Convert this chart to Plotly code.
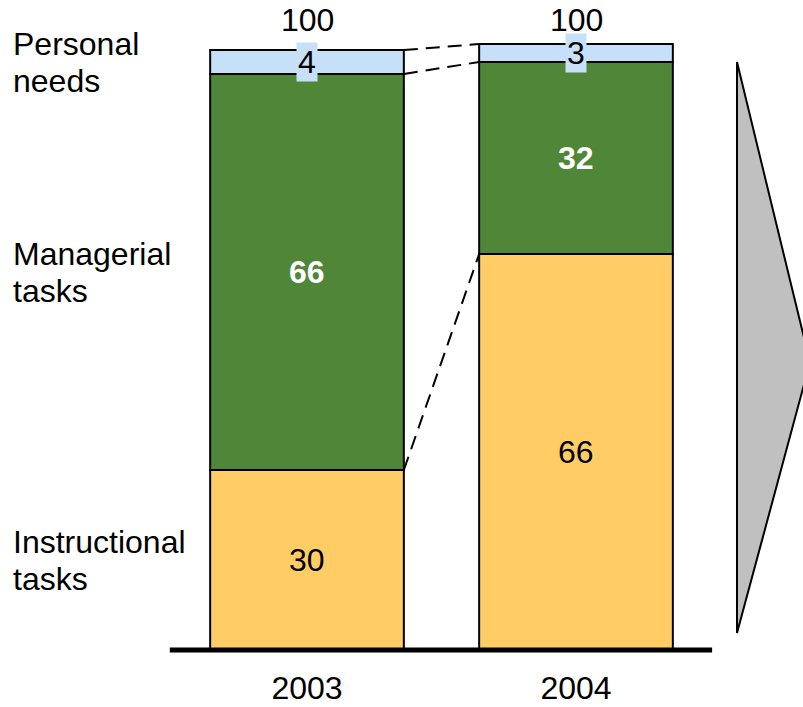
import plotly.graph_objects as go

# ---- data -------------------------------------------------------------
years = ["2003", "2004"]
instructional = [30, 66]
managerial = [66, 32]
personal = [4, 3]
totals = [100, 100]
row_labels = [["Instructional", "tasks"], ["Managerial", "tasks"], ["Personal", "needs"]]

# ---- styling ----------------------------------------------------------
FONT = "Liberation Sans, Arial, sans-serif"
FS = 32
LINE_GAP = 37  # px between the two lines of a row label
C_INSTR = "#FFCC66"
C_MANAG = "#508638"
C_PERS = "#C6E0F9"
BAR_W = 0.72
PX_PER_UNIT = 6  # vertical scale

xpos = list(range(len(years)))
series = [
    (instructional, C_INSTR, dict(color="black"), None),
    (managerial, C_MANAG, dict(color="white", weight="bold"), None),
    (personal, C_PERS, dict(color="black"), C_PERS),
]

fig = go.Figure()
annotations = []
bases = [0] * len(years)
cum = []  # cumulative tops for each series
for vals, color, tfont, bg in series:
    fig.add_trace(go.Bar(
        x=xpos, y=vals, base=bases[:], width=BAR_W,
        marker=dict(color=color, line=dict(color="black", width=2)),
        hoverinfo="skip", showlegend=False,
    ))
    for i, v in enumerate(vals):
        ann = dict(x=xpos[i], y=bases[i] + v / 2, text=str(v), showarrow=False,
                   xref="x", yref="y",
                   font=dict(family=FONT, size=FS, **tfont))
        if bg:
            ann.update(bgcolor=bg, borderpad=1)
        annotations.append(ann)
    bases = [b + v for b, v in zip(bases, vals)]
    cum.append(bases[:])

# totals above each bar
for i, t in enumerate(totals):
    annotations.append(dict(x=xpos[i], y=t, text=str(t), showarrow=False,
                            xref="x", yref="y", yshift=30,
                            font=dict(family=FONT, size=FS, color="black")))

# row labels on the left, aligned with the first bar's segments
first_bases = [0] + [c[0] for c in cum[:-1]]
for lines, (vals, *_), b in zip(row_labels, series, first_bases):
    for k, line in enumerate(lines):
        annotations.append(dict(x=11 / 803, xref="paper", y=b + vals[0] / 2, yref="y",
                                yshift=LINE_GAP * ((len(lines) - 1) / 2 - k),
                                text=line, showarrow=False, xanchor="left", align="left",
                                font=dict(family=FONT, size=FS, color="black")))

shapes = []
# dashed connectors between segment boundaries
for c in cum:
    shapes.append(dict(type="line", xref="x", yref="y",
                       x0=xpos[0] + BAR_W / 2, y0=c[0],
                       x1=xpos[1] - BAR_W / 2, y1=c[1],
                       line=dict(color="black", width=2, dash="14px,8px")))
# thick baseline
shapes.append(dict(type="line", xref="x", yref="y", x0=-0.51, x1=1.506, y0=0, y1=0,
                   line=dict(color="black", width=5), layer="above"))
# grey arrow head on the right
shapes.append(dict(type="path", xref="paper", yref="paper",
                   path="M 0.9178 0.9056 L 1.0087 0.4485 L 0.9178 0.0365 Z",
                   fillcolor="#C0C0C0", line=dict(color="black", width=2)))

fig.update_layout(
    width=803, height=707,
    margin=dict(l=0, r=0, t=0, b=50),
    paper_bgcolor="white", plot_bgcolor="white",
    barmode="overlay",
    annotations=annotations, shapes=shapes,
    xaxis=dict(range=[-307 / 269, 496 / 269], tickvals=xpos, ticktext=years,
               showgrid=False, zeroline=False, showline=False,
               ticks="outside", ticklen=3, tickcolor="rgba(0,0,0,0)",
               tickfont=dict(family=FONT, size=FS, color="black"),
               fixedrange=True, automargin=False),
    yaxis=dict(range=[-7 / PX_PER_UNIT, 650 / PX_PER_UNIT], visible=False, fixedrange=True),
    font=dict(family=FONT),
)

fig.write_html("out.html")
